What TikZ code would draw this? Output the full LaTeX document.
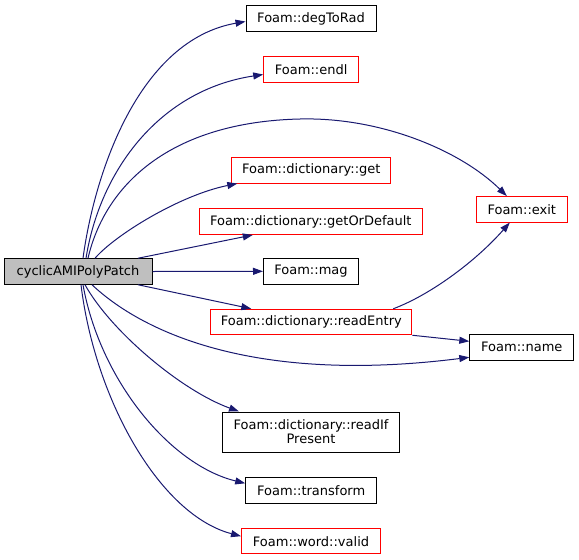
\documentclass[tikz,border=0pt]{standalone}
\usepackage{fontspec}
\setmainfont{DejaVu Sans}
\usepackage{tikz}
\usetikzlibrary{arrows.meta,calc}
\definecolor{edgeblue}{RGB}{25,25,112}

\begin{document}
\begin{tikzpicture}[
  x=1pt,y=-1pt,
  font=\fontsize{13}{14}\selectfont,
  fn/.style={draw=black,line width=1pt,inner sep=0pt,minimum height=25.5pt,align=center,fill=white},
  fnred/.style={fn,draw=red},
  caller/.style={fn,fill=black!25},
  call/.style={-{Triangle[length=10pt,width=7pt]},edgeblue,line width=1pt}
]
\useasboundingbox (0,0) rectangle (579,560);

% caller on the left
\node[caller,minimum width=148pt] (root) at (78,271.5) {cyclicAMIPolyPatch};

% callees, all in one column
\node[fn,minimum width=130pt] (deg) at (311,18.5) {Foam::degToRad};
\node[fnred,minimum width=95pt] (endl) at (311.2,69.5) {Foam::endl};
\node[fnred,minimum width=159pt] (get) at (311.3,170.3) {Foam::dictionary::get};
\node[fnred,minimum width=223pt] (getdef) at (310.8,221.7) {Foam::dictionary::getOrDefault};
\node[fn,minimum width=95pt] (mag) at (311,271.3) {Foam::mag};
\node[fnred,minimum width=201pt] (readentry) at (311.3,322) {Foam::dictionary::readEntry};
\node[fn,minimum width=177pt,minimum height=40pt] (readif) at (311,432) {Foam::dictionary::readIf\\Present};
\node[fn,minimum width=131pt] (transform) at (311.2,490.3) {Foam::transform};
\node[fnred,minimum width=139pt] (valid) at (311,541.2) {Foam::word::valid};

% second level
\node[fnred,minimum width=91pt] (exit) at (521.8,209.3) {Foam::exit};
\node[fn,minimum width=104pt] (name) at (521.8,347.3) {Foam::name};

% calls going up
\draw[call] ($(root.north)+(5,0)$) .. controls (95,170) and (140,40) .. ($(deg.west)+(0,3)$);
\draw[call] ($(root.north)+(8,0)$) .. controls (100,170) and (160,90) .. ($(endl.west)+(0,5)$);
\draw[call] ($(root.north)+(10,0)$) .. controls (105,185) and (170,122) .. (300,119)
  .. controls (380,117) and (460,150) .. ($(exit.north)+(-15,0)$);
\draw[call] ($(root.north)+(17,0)$) .. controls (115,235) and (180,195) .. ($(get.south west)+(6,0)$);
\draw[call] ($(root.north)+(60,0)$) -- ($(getdef.south west)+(54,0)$);
\draw[call] (root.east) -- (mag.west);

% calls going down
\draw[call] ($(root.south)+(60,0)$) -- ($(readentry.north west)+(41,0)$);
\draw[call] ($(root.south)+(14,0)$) .. controls (140,330) and (250,385) .. ($(name.west)+(0,10)$);
\draw[call] ($(root.south)+(7,0)$) .. controls (110,330) and (180,390) .. ($(readif.north west)+(17,0)$);
\draw[call] ($(root.south)+(5,0)$) .. controls (100,380) and (170,465) .. ($(transform.west)+(0,-7)$);
\draw[call] ($(root.south)+(3,0)$) .. controls (95,400) and (160,515) .. ($(valid.west)+(0,-5)$);

% readEntry calls
\draw[call] ($(readentry.north east)+(-19,0)$) .. controls (430,295) and (475,262) .. ($(exit.south)+(-12,0)$);
\draw[call] (readentry.south east) -- ($(name.west)+(0,-6)$);
\end{tikzpicture}
\end{document}
